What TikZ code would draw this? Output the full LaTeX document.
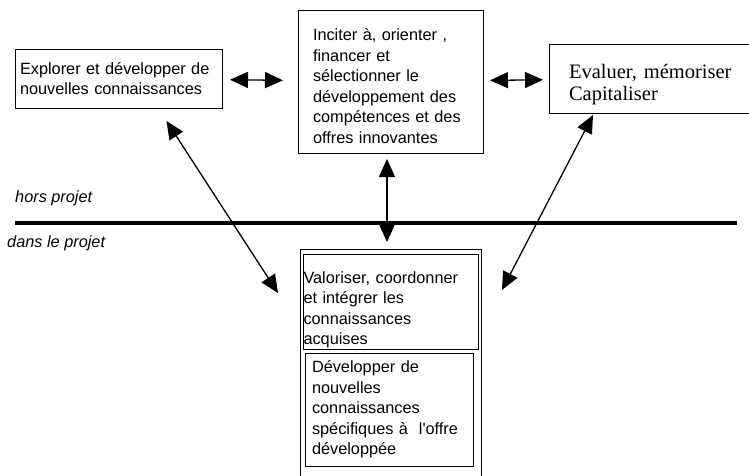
\documentclass[tikz,border=0pt]{standalone}
\usepackage{fontspec}
\setmainfont{Liberation Sans}
\newfontfamily\timesfont{Liberation Serif}
\usetikzlibrary{arrows.meta}
\newcommand{\corps}{\fontsize{16.3pt}{20.5pt}\selectfont}
\newcommand{\corpsserif}{\timesfont\fontsize{20.5pt}{22pt}\selectfont}
\newcommand{\hautligne}[1]{\rule{0pt}{#1}}
\begin{document}
\begin{tikzpicture}[x=1pt,y=-1pt,
    boite/.style={draw,line width=1pt,rectangle,anchor=north west,outer sep=0pt,
      align=left,font=\corps,inner ysep=0pt},
    fleche/.style={{Triangle[length=18pt,width=16pt]}-{Triangle[length=18pt,width=16pt]},line width=1.3pt},
    lieu/.style={font=\corps\itshape,anchor=base west,inner sep=0pt}]
  \useasboundingbox (0,0) rectangle (749,475);
  \node[boite,minimum width=207pt,minimum height=59pt,inner xsep=5pt,text width=197pt]
    (explorer) at (15,49) {Explorer et développer de\\nouvelles connaissances};
  \node[boite,minimum width=185pt,minimum height=143pt,inner xsep=15pt,text width=155pt]
    (inciter) at (298,10) {\hautligne{21pt}Inciter à, orienter ,\\financer et\\sélectionner le\\développement des\\compétences et des\\offres innovantes};
  \node[boite,minimum width=215pt,minimum height=69pt,inner xsep=20pt,text width=175pt,font=\corpsserif]
    (evaluer) at (549,44) {\hautligne{26pt}Evaluer, mémoriser\\Capitaliser};
  \node[boite,minimum width=181pt,minimum height=245pt] (integrer) at (300,249) {};
  \node[boite,minimum width=175pt,minimum height=95pt,inner xsep=0.5pt,text width=174pt]
    (valoriser) at (303,254) {\hautligne{28pt}Valoriser, coordonner\\et intégrer les\\connaissances\\acquises};
  \node[boite,minimum width=168pt,minimum height=113pt,inner xsep=7pt,text width=154pt]
    (specifique) at (305,353) {Développer de\\nouvelles\\connaissances\\spécifiques à\ \ l\textquotesingle offre\\développée};
  \draw[line width=3.5pt] (15,223) -- (737,223);
  \node[lieu] (hors) at (15,202) {hors projet};
  \node[lieu] (dans) at (7,247) {dans le projet};
  \begin{scope}[fleche]
    \draw[shorten <=8pt,shorten >=15pt] (explorer) -- (inciter);
    \draw[shorten <=7pt,shorten >=6pt] (inciter) -- (evaluer);
    \draw ([xshift=-3.5pt,yshift=-6pt]inciter.south) -- ([xshift=-3.5pt,yshift=7pt]integrer.north);
    \draw ([xshift=48pt,yshift=-13pt]explorer.south) -- ([xshift=-22pt,yshift=-44pt]integrer.north west);
    \draw ([xshift=44pt,yshift=-2pt]evaluer.south west) -- ([xshift=21pt,yshift=-41pt]integrer.north east);
  \end{scope}
\end{tikzpicture}
\end{document}
